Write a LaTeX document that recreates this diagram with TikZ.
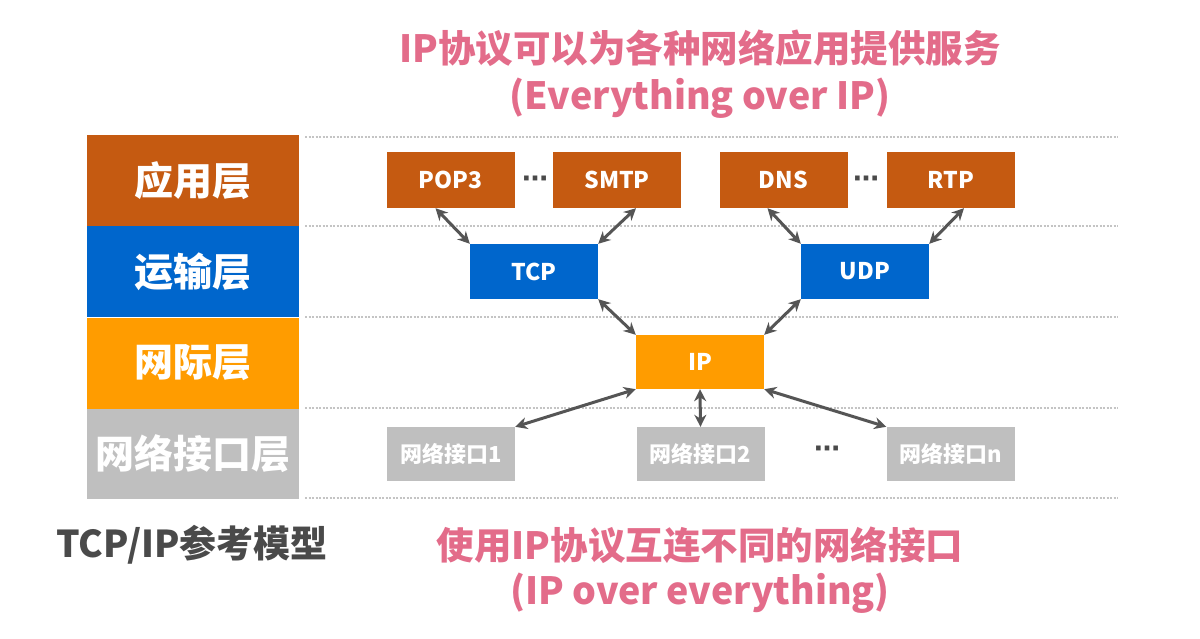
\documentclass[tikz,border=0pt]{standalone}
\usepackage{fontspec}
\setmainfont{Noto Sans CJK SC}
\newfontfamily\dejavu{DejaVu Sans}
\usetikzlibrary{arrows.meta}
\definecolor{appc}{HTML}{C55A11}
\definecolor{trc}{HTML}{0066CC}
\definecolor{ipc}{HTML}{FF9C00}
\definecolor{nic}{HTML}{BFBFBF}
\definecolor{pinkc}{HTML}{E36C8A}
\definecolor{darkc}{HTML}{4A4A4A}
\definecolor{arrc}{HTML}{555555}
\definecolor{dotc}{HTML}{C4C4C4}
\begin{document}
\begin{tikzpicture}[x=1pt,y=-1pt,
  layer/.style={rectangle, minimum width=212pt, minimum height=91pt, inner sep=0pt, text=white, font=\fontsize{39}{41}\selectfont\bfseries},
  proto/.style={rectangle, minimum width=128pt, minimum height=56pt, inner sep=0pt, text=white, font=\fontsize{23}{25}\selectfont\bfseries},
  iface/.style={proto, fill=nic, minimum height=54pt, font=\fontsize{22}{24}\selectfont\bfseries},
  link/.style={draw=arrc, line width=3pt, {Stealth[length=12pt,width=12pt]}-{Stealth[length=12pt,width=12pt]}},
  sepline/.style={draw=dotc, line width=2pt, dash pattern=on 2pt off 1.5pt},
  dots/.style={text=darkc, font=\dejavu\fontsize{26}{28}\selectfont\bfseries, inner sep=0pt},
  pinktext/.style={text=pinkc, font=\fontsize{37.5}{40}\selectfont\bfseries, inner sep=0pt}
]
\fill[white] (0,0) rectangle (1200,639);
\useasboundingbox (0,0) rectangle (1200,639);

% separator lines
\foreach \yy in {137,226,317,408,498}
  \draw[sepline] (305,\yy) -- (1118,\yy);

% layer column
\node[layer, fill=appc] (lapp) at (193,180.5) {应用层};
\node[layer, fill=trc] (ltr) at (193,271.5) {运输层};
\node[layer, fill=ipc] (lip) at (193,363) {网际层};
\node[layer, fill=nic, minimum height=90pt] (lni) at (193,454) {网络接口层};

% application protocols
\node[proto, fill=appc] (pop) at (450.5,180) {POP3};
\node[proto, fill=appc] (smtp) at (617,180) {SMTP};
\node[proto, fill=appc] (dns) at (783.5,180) {DNS};
\node[proto, fill=appc] (rtp) at (951,180) {RTP};
\node[dots] (d1) at (535,182) {⋯};
\node[dots] (d2) at (866,182) {⋯};

% transport
\node[proto, fill=trc, minimum height=55pt] (tcp) at (534,271.5) {TCP};
\node[proto, fill=trc, minimum height=55pt] (udp) at (865,271.5) {UDP};

% internet
\node[proto, fill=ipc, minimum height=54pt] (ip) at (700,362) {IP};

% interfaces
\node[iface] (ni1) at (451,454) {网络接口1};
\node[iface] (ni2) at (700.5,454) {网络接口2};
\node[iface] (nin) at (950.5,454) {网络接口n};
\node[dots] (d3) at (827,452) {⋯};

% links
\draw[link] ([xshift=-15pt]pop.south) -- (tcp.north west);
\draw[link] ([xshift=19pt]smtp.south) -- (tcp.north east);
\draw[link] ([xshift=-16pt]dns.south) -- (udp.north west);
\draw[link] ([xshift=13pt]rtp.south) -- (udp.north east);
\draw[link] (tcp.south east) -- (ip.north west);
\draw[link] (udp.south west) -- (ip.north east);
\draw[link] (ip.south west) -- (ni1.north east);
\draw[link] (ip.south) -- (ni2.north);
\draw[link] (ip.south east) -- (nin.north west);

% texts
\node[pinktext] (t1) at (700,48) {IP协议可以为各种网络应用提供服务};
\node[pinktext] (t2) at (700,98) {(Everything over IP)};
\node[pinktext] (b1) at (700,545) {使用IP协议互连不同的网络接口};
\node[pinktext] (b2) at (700,593) {(IP over everything)};
\node[text=darkc, font=\fontsize{37}{39}\selectfont\bfseries, inner sep=0pt] (model) at (192,545) {TCP/IP参考模型};
\end{tikzpicture}
\end{document}
